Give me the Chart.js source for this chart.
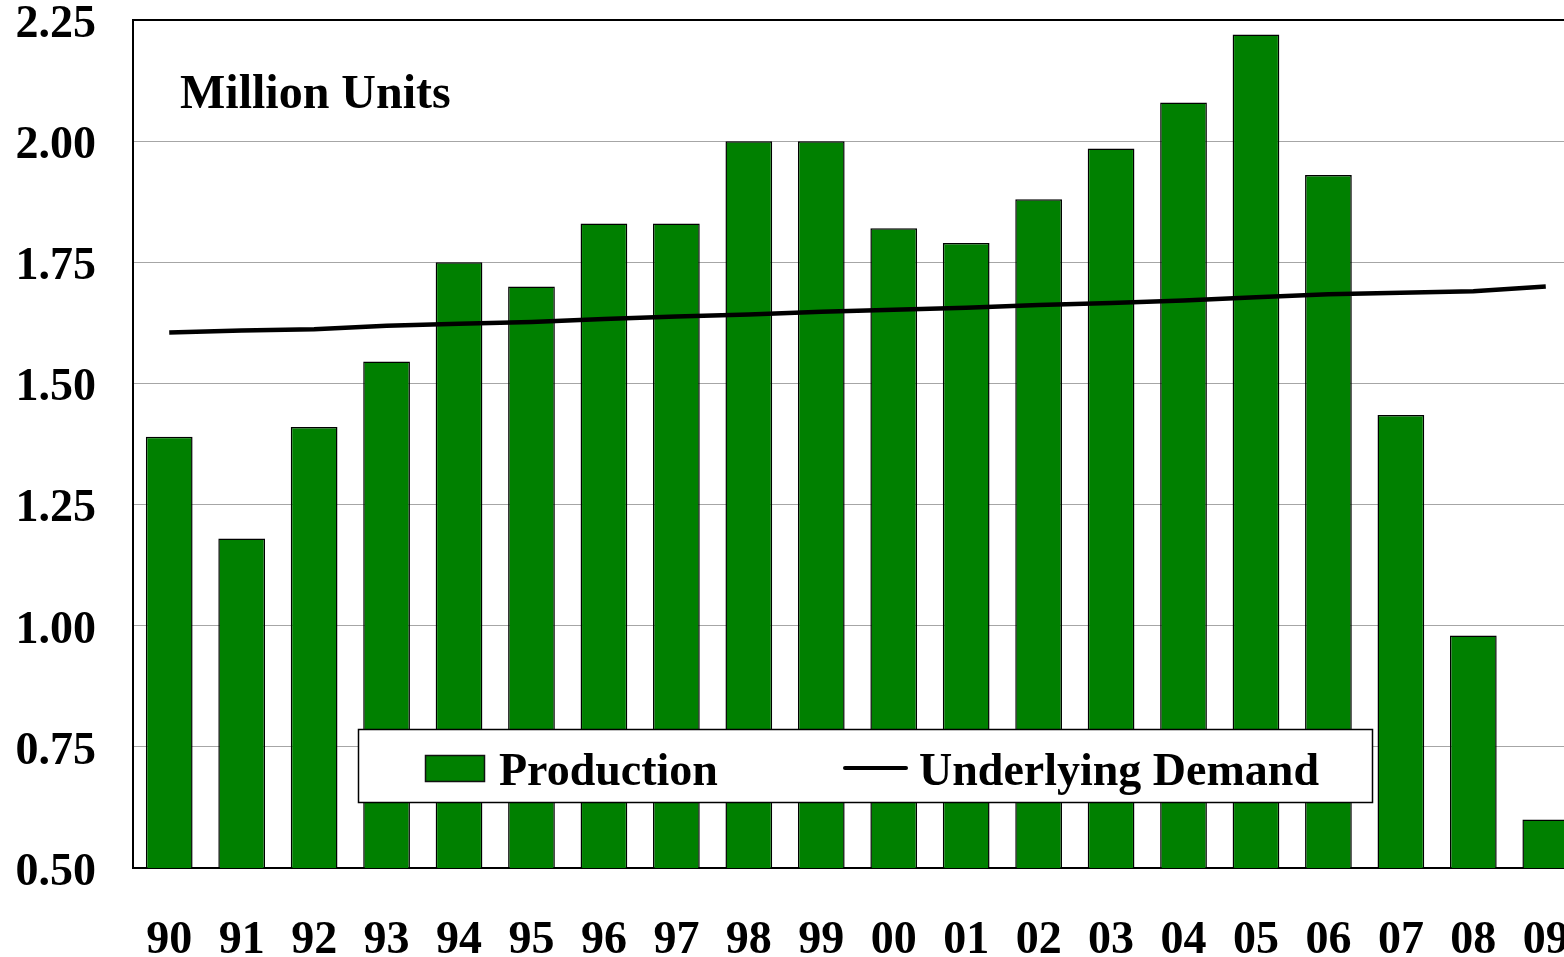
<!DOCTYPE html>
<html>
<head>
<meta charset="utf-8">
<script src="https://cdn.jsdelivr.net/npm/chart.js@4/dist/chart.umd.min.js"></script>
<style>
  html, body { margin: 0; padding: 0; background: #fff; overflow: hidden; }
  #wrap { position: relative; width: 1582px; height: 957px; }
</style>
</head>
<body>
<div id="wrap"><canvas id="chart" width="1582" height="957"></canvas></div>
<script>
const years = ['90', '91', '92', '93', '94', '95', '96', '97', '98', '99',
               '00', '01', '02', '03', '04', '05', '06', '07', '08', '09'];
const production = [1.39, 1.18, 1.41, 1.545, 1.75, 1.70, 1.83, 1.83, 2.00, 2.00,
                    1.82, 1.79, 1.88, 1.985, 2.08, 2.22, 1.93, 1.435, 0.98, 0.60];
const demand = [1.605, 1.609, 1.612, 1.619, 1.623, 1.627, 1.633, 1.638, 1.642, 1.648,
                1.652, 1.656, 1.662, 1.666, 1.671, 1.678, 1.684, 1.687, 1.690, 1.700];
const yMin = 0.5, yMax = 2.25, yStep = 0.25;

const FONT = '"Liberation Serif", "Times New Roman", serif';
const GREEN = '#008000';

// title text + boxed legend inside the plot
const overlay = {
  id: 'overlay',
  afterDraw(chart) {
    const ctx = chart.ctx;
    const sets = chart.data.datasets;
    const barLabel = sets.find(d => d.type === 'bar').label;
    const lineLabel = sets.find(d => d.type === 'line').label;
    ctx.save();
    ctx.fillStyle = '#000';
    ctx.font = `bold 48px ${FONT}`;
    ctx.textBaseline = 'alphabetic';
    ctx.textAlign = 'left';
    ctx.fillText('Million Units', 180, 108);

    // legend box
    ctx.fillStyle = '#fff';
    ctx.fillRect(358, 729, 1015, 74);
    ctx.strokeStyle = '#000';
    ctx.lineWidth = 1.5;
    ctx.strokeRect(358.5, 729.5, 1014, 73);

    ctx.fillStyle = GREEN;
    ctx.fillRect(425, 755, 60, 27);
    ctx.lineWidth = 1.5;
    ctx.strokeStyle = '#111';
    ctx.strokeRect(425.5, 755.5, 59, 26);

    ctx.beginPath();
    ctx.lineCap = 'round';
    ctx.lineWidth = 4;
    ctx.strokeStyle = '#000';
    ctx.moveTo(845, 768);
    ctx.lineTo(906, 768);
    ctx.stroke();

    ctx.fillStyle = '#000';
    ctx.font = `bold 46px ${FONT}`;
    ctx.fillText(barLabel, 499, 785);
    ctx.fillText(lineLabel, 919, 785);
    ctx.restore();
  }
};

new Chart(document.getElementById('chart'), {
  data: {
    labels: years,
    datasets: [
      {
        type: 'line',
        label: 'Underlying Demand',
        data: demand,
        borderColor: '#000',
        borderWidth: 4.5,
        pointRadius: 0,
        tension: 0,
        order: 0
      },
      {
        type: 'bar',
        label: 'Production',
        data: production,
        backgroundColor: GREEN,
        borderColor: '#000',
        borderWidth: 1.5,
        categoryPercentage: 1,
        barPercentage: 0.645,
        order: 1
      }
    ]
  },
  options: {
    responsive: false,
    animation: false,
    layout: { padding: { top: 20, left: 0, right: 0, bottom: 0 } },
    plugins: {
      legend: { display: false },
      tooltip: { enabled: false }
    },
    scales: {
      x: {
        grid: { drawOnChartArea: false, drawTicks: false },
        border: { color: '#000', width: 2 },
        ticks: {
          color: '#000',
          font: { family: FONT, size: 46, weight: 'bold' },
          padding: 46,
          maxRotation: 0,
          autoSkip: false
        },
        afterFit(scale) {
          scale.height = 89;
          scale.paddingLeft = 0;
          scale.paddingRight = 0;
        }
      },
      y: {
        min: yMin,
        max: yMax,
        grid: {
          drawTicks: false,
          color: c => (c.tick && c.tick.value === yMax) ? '#000' : '#a6a6a6',
          lineWidth: c => (c.tick && c.tick.value === yMax) ? 2 : 1
        },
        border: { color: '#000', width: 2 },
        ticks: {
          stepSize: yStep,
          color: '#000',
          font: { family: FONT, size: 46, weight: 'bold' },
          padding: 37,
          labelOffset: 5,
          callback: v => Number(v).toFixed(2)
        },
        afterFit(scale) {
          scale.width = 133;
          scale.paddingTop = 0;
          scale.paddingBottom = 0;
        }
      }
    }
  },
  plugins: [overlay]
});
</script>
</body>
</html>
